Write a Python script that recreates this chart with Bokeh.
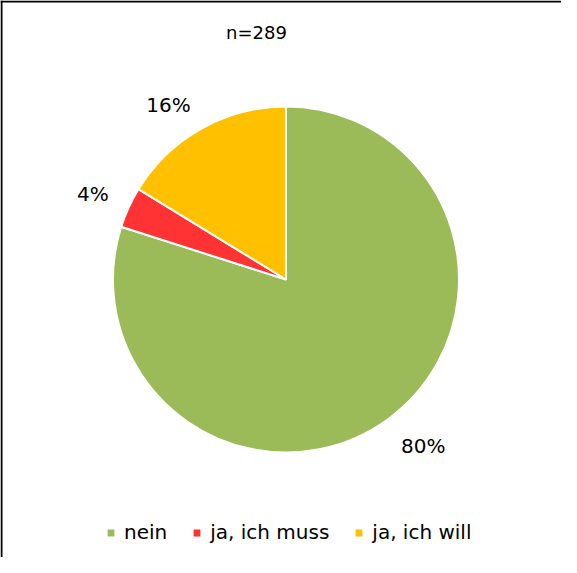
import numpy as np
from bokeh.plotting import figure
from bokeh.models import Range1d, Label, Span, Legend, LegendItem, ColumnDataSource
from bokeh.embed import file_html
from bokeh.resources import INLINE

# data
categories = ["nein", "ja, ich muss", "ja, ich will"]
counts = [231, 11, 47]
colors = ["#9BBB59", "#FF3333", "#FFC000"]
title_text = "n=289"

W, H = 561, 557
CX, CY = 285.5, 278.0
R = 173
LABEL_R = 195
FONT = "DejaVu Sans"

vals = np.array(counts, dtype=float)
frac = vals / vals.sum()
cum = np.concatenate([[0], np.cumsum(frac)])
start = np.pi / 2 - 2 * np.pi * cum[:-1]
end = np.pi / 2 - 2 * np.pi * cum[1:]
mid = (start + end) / 2
labels = [f"{round(f * 100):d}%" for f in frac]
aligns = ["left" if np.cos(m) > 0 else "right" for m in mid]
dy = np.where(np.sin(mid) > 0, 4.0, -9.0)

src = ColumnDataSource(dict(
    cat=categories, start=start, end=end, color=colors,
    lx=CX + LABEL_R * np.cos(mid), ly=CY + LABEL_R * np.sin(mid) + dy, lab=labels,
    al=aligns,
))

p = figure(width=W, height=H, output_backend="svg", toolbar_location=None,
           x_range=Range1d(0, W), y_range=Range1d(0, H), min_border=0)
p.xaxis.visible = False
p.yaxis.visible = False
p.grid.visible = False
p.outline_line_color = None
p.background_fill_color = "white"
p.border_fill_color = "white"

wr = p.wedge(x=CX, y=CY, radius=R, start_angle="start", end_angle="end",
             direction="clock", fill_color="color", line_color="white",
             line_width=2, source=src)

p.text(x="lx", y="ly", text="lab", source=src, text_align="al",
       text_baseline="middle", text_font={"value": FONT},
       text_font_size="20px", text_color="#000000")

p.add_layout(Label(x=256, y=H - 32, text=title_text, text_align="center",
                   text_baseline="middle", text_font=FONT,
                   text_font_size="18px", text_color="#000000"))

p.add_layout(Span(location=1, dimension="height", line_color="#000000", line_width=2))
p.add_layout(Span(location=H - 1, dimension="width", line_color="#000000", line_width=2))

items = [LegendItem(label=c, renderers=[wr], index=i) for i, c in enumerate(categories)]
legend = Legend(items=items, orientation="horizontal", location=(105, 13),
                glyph_width=11, glyph_height=11, label_standoff=8, spacing=24,
                padding=0, margin=0, border_line_color=None,
                background_fill_alpha=0, label_text_font=FONT,
                label_text_font_size="20px", label_text_color="#000000")
p.add_layout(legend, "center")

open("out.html", "w").write(file_html(p, INLINE))
